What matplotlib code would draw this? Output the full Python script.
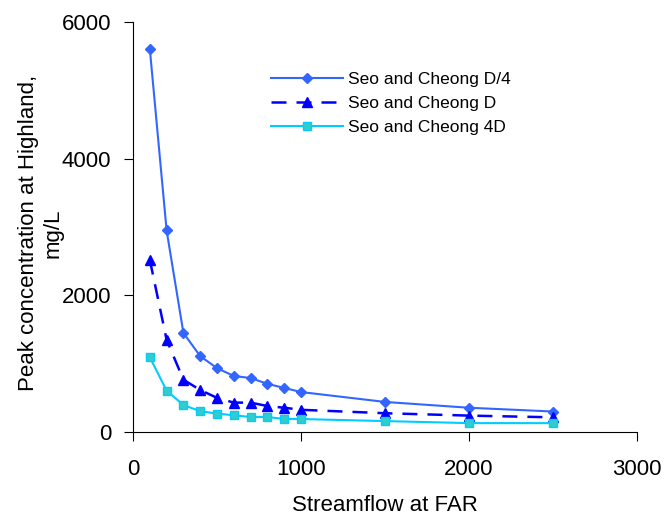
import matplotlib
matplotlib.use("Agg")
import matplotlib.pyplot as plt

plt.rcParams['font.family'] = ['Liberation Sans', 'DejaVu Sans']

flow = [100, 200, 300, 400, 500, 600, 700, 800, 900, 1000, 1500, 2000, 2500]
d_quarter = [5610, 2950, 1450, 1110, 935, 820, 790, 705, 645, 585, 440, 355, 300]
d_one = [2520, 1350, 765, 615, 500, 430, 430, 380, 355, 325, 275, 240, 215]
d_four = [1095, 605, 395, 305, 270, 245, 220, 220, 190, 190, 160, 130, 130]

fig = plt.figure(figsize=(6.7, 5.18), dpi=100)
ax = fig.add_axes([0.1985, 0.166, 0.7525, 0.7915])

ax.plot(flow, d_quarter, color="#3366FF", marker="D", markersize=5.5, lw=1.5,
        label="Seo and Cheong D/4")
ax.plot(flow, d_one, color="#0000FF", marker="^", markersize=7, lw=1.8,
        dashes=(6, 4), label="Seo and Cheong D")
ax.plot(flow, d_four, color="#00CCFF", marker="s", markersize=5.5, lw=1.5,
        markerfacecolor="#33CCCC", markeredgecolor="#00CCFF",
        label="Seo and Cheong 4D")

ax.set_xlim(0, 3000)
ax.set_ylim(0, 6000)
ax.set_xticks([0, 1000, 2000, 3000])
ax.set_yticks([0, 2000, 4000, 6000])
ax.spines["top"].set_visible(False)
ax.spines["right"].set_visible(False)
ax.tick_params(direction="out", length=6.5, labelsize=16)
ax.tick_params(axis="x", pad=13)
ax.tick_params(axis="y", pad=9)
ax.set_xlabel("Streamflow at FAR", fontsize=16, labelpad=11)
ax.set_ylabel("Peak concentration at Highland,\nmg/L", fontsize=16)
ax.yaxis.set_label_coords(-0.138, 0.485)

ax.legend(loc="upper left", bbox_to_anchor=(0.26, 0.895), frameon=False,
          fontsize=12.5, handlelength=4.15, handletextpad=0.29, labelspacing=0.5,
          borderaxespad=0)

fig.savefig("out.png", dpi=100)
